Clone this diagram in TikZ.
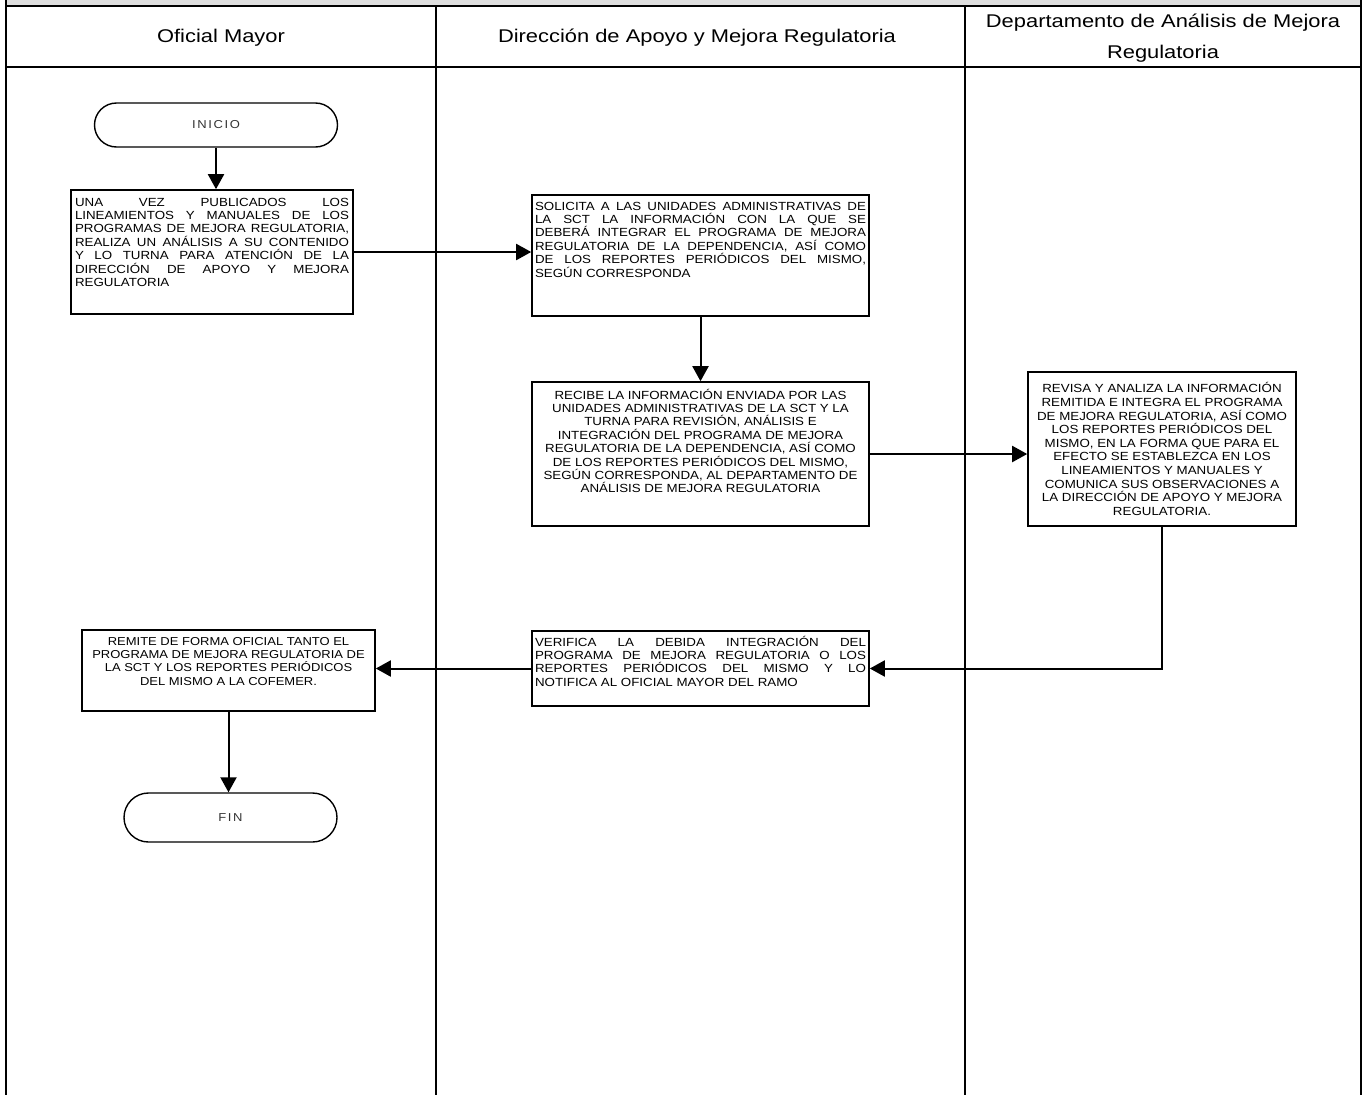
\documentclass[tikz,border=0pt]{standalone}
\usepackage{fontspec}
\setmainfont{Liberation Sans}[FakeStretch=1.13]
\newfontfamily\encabezado{Liberation Sans}[FakeStretch=1.19]
\newfontfamily\espaciada{Liberation Sans}[FakeStretch=1.13,LetterSpace=14]
\usetikzlibrary{arrows.meta,shapes.misc,positioning}
\tolerance=10000 \hbadness=10000 \hfuzz=4pt
\hyphenpenalty=10000 \exhyphenpenalty=10000
\newcommand{\tope}{\rule{0pt}{12pt}}

\begin{document}
\begin{tikzpicture}[x=1pt,y=-1pt,->,>={Triangle[length=15pt,width=16pt]},line width=2pt]
      \tikzstyle{proceso}=[draw=black,rectangle,inner sep=3pt,line width=1.6pt,font=\fontsize{11.8}{13.4}\selectfont]
      \tikzstyle{terminal}=[draw=black,rounded rectangle,inner sep=0pt,line width=1.4pt,text=black!80,font=\espaciada\fontsize{11.5}{12}\selectfont]
      \tikzstyle{carril}=[align=center,font=\encabezado\fontsize{18.4}{31}\selectfont]
      \useasboundingbox (0,0) rectangle (1364,1095);

      % marco y carriles
      \fill[black!13] (6,0) rectangle (1361,6);
      \draw[-,line width=2.6pt] (6,0) -- (6,1095) (1361,0) -- (1361,1095)
            (6,6) -- (1361,6) (6,67) -- (1361,67);
      \foreach \x in {436,965} {
        \draw[-,line width=2.6pt] (\x,6) -- (\x,67);
        \draw[-,line width=1.3pt] (\x,67) -- (\x,1095);
      }
      \node[carril] (hOM) at (221,38)  {Oficial Mayor};
      \node[carril] (hDA) at (697,38)  {Dirección de Apoyo y Mejora Regulatoria};
      \node[carril] (hDM) at (1163,38) {Departamento de Análisis de Mejora\\Regulatoria};

      % pasos
      \node[terminal,minimum width=243pt,minimum height=44pt] (inicio) at (216,125) {INICIO};
      \node[proceso,inner sep=4pt] (p1) at (212,252) {\parbox[c][116pt][t]{274pt}{\tope UNA VEZ PUBLICADOS LOS\linebreak
        LINEAMIENTOS Y MANUALES DE LOS\linebreak PROGRAMAS DE MEJORA REGULATORIA,\linebreak
        REALIZA UN ANÁLISIS A SU CONTENIDO\linebreak Y LO TURNA PARA ATENCIÓN DE LA\linebreak
        DIRECCIÓN DE APOYO Y MEJORA\linebreak REGULATORIA}};
      \node[proceso] (p2) at (700.5,255.5) {\parbox[c][115pt][t]{331pt}{\tope SOLICITA A LAS UNIDADES ADMINISTRATIVAS DE\linebreak
        LA SCT LA INFORMACIÓN CON LA QUE SE\linebreak DEBERÁ INTEGRAR EL PROGRAMA DE MEJORA\linebreak
        REGULATORIA DE LA DEPENDENCIA, ASÍ COMO\linebreak DE LOS REPORTES PERIÓDICOS DEL MISMO,\linebreak
        SEGÚN CORRESPONDA}};
      \node[proceso,inner sep=5pt] (p3) at (700.5,454) {\parbox[c][134pt][t]{327pt}{\centering\tope
        RECIBE LA INFORMACIÓN ENVIADA POR LAS\\ UNIDADES ADMINISTRATIVAS DE LA SCT Y LA\\
        TURNA PARA REVISIÓN, ANÁLISIS E\\ INTEGRACIÓN DEL PROGRAMA DE MEJORA\\
        REGULATORIA DE LA DEPENDENCIA, ASÍ COMO\\ DE LOS REPORTES PERIÓDICOS DEL MISMO,\\
        SEGÚN CORRESPONDA, AL DEPARTAMENTO DE\\ ANÁLISIS DE MEJORA REGULATORIA}};
      \node[proceso,inner sep=2pt,font=\fontsize{11.8}{13.6}\selectfont] (p4) at (1162,449) {\parbox[c][150pt][c]{264pt}{\centering
        REVISA Y ANALIZA LA INFORMACIÓN\\ REMITIDA E INTEGRA EL PROGRAMA\\
        DE MEJORA REGULATORIA, ASÍ COMO\\ LOS REPORTES PERIÓDICOS DEL\\
        MISMO, EN LA FORMA QUE PARA EL\\ EFECTO SE ESTABLEZCA EN LOS\\
        LINEAMIENTOS Y MANUALES Y\\ COMUNICA SUS OBSERVACIONES A\\
        LA DIRECCIÓN DE APOYO Y MEJORA\\ REGULATORIA.}};
      \node[proceso] (p5) at (700.5,668.5) {\parbox[c][69pt][t]{331pt}{\tope VERIFICA LA DEBIDA INTEGRACIÓN DEL\linebreak
        PROGRAMA DE MEJORA REGULATORIA O LOS\linebreak REPORTES PERIÓDICOS DEL MISMO Y LO\linebreak
        NOTIFICA AL OFICIAL MAYOR DEL RAMO}};
      \node[proceso,font=\fontsize{11.5}{13.4}\selectfont] (p6) at (228.5,670.5) {\parbox[c][75pt][t]{287pt}{\centering\tope
        REMITE DE FORMA OFICIAL TANTO EL\\ PROGRAMA DE MEJORA REGULATORIA DE\\
        LA SCT Y LOS REPORTES PERIÓDICOS\\ DEL MISMO A LA COFEMER.}};
      \node[terminal,minimum width=213pt,minimum height=49pt] (fin) at (230.5,817.5) {FIN};

      % conectores
      \path (inicio.south) edge (inicio.south |- p1.north)
            (p1.east) edge (p1.east -| p2.west)
            (p2) edge (p3)
            (p3.east) edge (p3.east -| p4.west)
            (p5.west) edge (p5.west -| p6.east)
            (p6.south) edge (p6.south |- fin.north);
      \draw (p4.south) |- (p5.east);
\end{tikzpicture}
\end{document}
